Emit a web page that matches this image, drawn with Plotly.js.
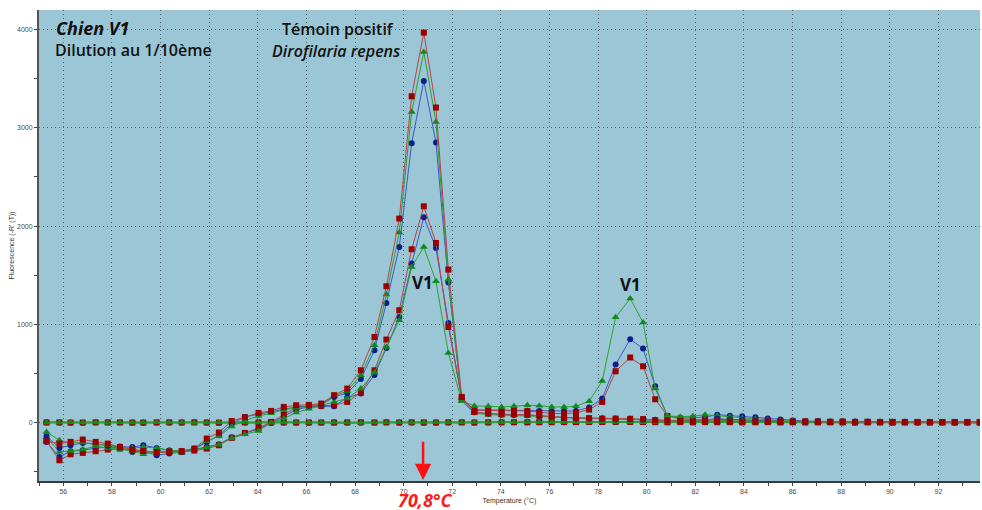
<!DOCTYPE html>
<html>
<head>
<meta charset="utf-8">
<script src="https://cdn.plot.ly/plotly-3.0.1.min.js"></script>
<style>
  html, body { margin: 0; padding: 0; background: #ffffff; }
  #chart { width: 982px; height: 510px; }
</style>
</head>
<body>
<div id="chart"></div>
<script>
// Melt-curve derivative readings, -R'(T), per temperature step (°C)
const temps = [55.31, 55.84, 56.30, 56.80, 57.33, 57.83, 58.33, 58.84, 59.29, 59.84,
  60.36, 60.87, 61.39, 61.90, 62.40, 62.93, 63.47, 64.03, 64.55, 65.07,
  65.58, 66.10, 66.61, 67.14, 67.68, 68.24, 68.80, 69.29, 69.82, 70.33,
  70.83, 71.33, 71.84, 72.39, 72.91, 73.48, 74.03, 74.54, 75.09, 75.58,
  76.09, 76.60, 77.09, 77.63, 78.17, 78.72, 79.32, 79.85, 80.35, 80.85,
  81.38, 81.90, 82.40, 82.90, 83.42, 83.93, 84.47, 84.98, 85.50, 86.01,
  86.52, 87.04, 87.55, 88.06, 88.57, 89.09, 89.60, 90.11, 90.62, 91.14,
  91.65, 92.16, 92.67, 93.19, 93.70];

// Positive control (Dirofilaria repens), three replicates
const posRed = [-190, -214, -197, -173, -197, -214, -250, -275, -290, -300,
  -295, -290, -265, -163, -102, 16, 55, 98, 118, 159,
  176, 180, 193, 279, 346, 532, 871, 1387, 2076, 3321,
  3969, 3206, 1557, 261, 108, 92, 85, 85, 80, 70,
  62, 50, 45, 45, 40, 40, 38, 35, 25, 20,
  15, 12, 18, 15, 10, 8, 12, 10, 5, 8,
  10, 6, 5, 8, 4, 6, 5, 3, 6, 4,
  5, 3, 4, 5, 3];
const posBlue = [-140, -258, -231, -207, -215, -235, -245, -250, -231, -260,
  -285, -295, -270, -200, -130, -11, 57, 85, 110, 140,
  160, 170, 180, 261, 301, 444, 736, 1217, 1787, 2843,
  3477, 2850, 1425, 240, 105, 90, 80, 78, 75, 66,
  58, 48, 44, 42, 40, 38, 36, 32, 25, 20,
  22, 18, 25, 40, 30, 28, 20, 15, 12, 10,
  8, 10, 6, 8, 5, 7, 4, 6, 5, 3,
  6, 4, 3, 5, 4];
const posGreen = [-96, -180, -207, -204, -225, -230, -255, -260, -250, -258,
  -282, -290, -262, -190, -140, -40, 20, 67, 95, 130,
  150, 165, 185, 270, 322, 481, 787, 1303, 1934, 3161,
  3772, 3060, 1455, 220, 95, 80, 75, 74, 70, 64,
  57, 50, 47, 45, 45, 42, 40, 35, 28, 22,
  20, 25, 30, 22, 18, 15, 12, 10, 8, 6,
  9, 5, 7, 4, 6, 5, 3, 5, 4, 3,
  5, 3, 4, 2, 3];

// Sample V1 (dog, 1/10 dilution), three replicates
const v1Red = [-187, -384, -323, -309, -292, -275, -265, -280, -292, -309,
  -299, -300, -285, -265, -231, -156, -106, -55, 6, 81,
  152, 166, 170, 176, 210, 305, 532, 845, 1143, 1764,
  2201, 1828, 973, 250, 125, 125, 118, 118, 118, 105,
  92, 92, 98, 132, 210, 522, 662, 573, 237, 67,
  40, 30, 30, 35, 30, 25, 20, 18, 15, 12,
  10, 12, 8, 10, 6, 8, 5, 7, 4, 6,
  5, 4, 5, 3, 4];
const v1Blue = [-197, -350, -292, -282, -260, -250, -255, -300, -290, -333,
  -316, -300, -275, -250, -220, -150, -110, -65, -5, 60,
  130, 160, 166, 166, 254, 295, 485, 759, 1075, 1618,
  2090, 1777, 1014, 240, 130, 128, 120, 120, 120, 118,
  115, 118, 118, 153, 244, 590, 848, 753, 369, 67,
  45, 50, 55, 80, 70, 65, 55, 40, 30, 22,
  15, 12, 10, 8, 10, 6, 8, 5, 7, 4,
  6, 5, 4, 5, 3];
const v1Green = [-150, -299, -289, -275, -241, -260, -270, -290, -323, -290,
  -300, -305, -275, -255, -225, -160, -120, -85, -1, 40,
  102, 140, 170, 210, 244, 346, 510, 770, 1041, 1584,
  1787, 1438, 708, 220, 169, 166, 159, 166, 176, 172,
  159, 159, 166, 217, 423, 1072, 1262, 1018, 346, 67,
  60, 65, 80, 70, 60, 45, 35, 25, 18, 14,
  10, 12, 8, 6, 9, 5, 7, 4, 6, 5,
  3, 5, 4, 3, 4];

// Negative wells, flat around zero
const negBlue = [2, 0, 1, -1, 0, 2, 1, 0, -2, 1,
  0, 1, 2, 0, -1, 1, 0, 2, 1, 0,
  1, -1, 0, 2, 1, 0, 1, 2, 0, 1,
  -1, 0, 1, 2, 0, 1, 3, 2, 4, 3,
  5, 4, 6, 5, 8, 6, 7, 5, 6, 4,
  5, 3, 4, 6, 5, 4, 3, 5, 4, 2,
  3, 4, 2, 3, 1, 2, 3, 1, 2, 0,
  1, 2, 1, 0, 1];
const negRed = [0, 1, -1, 0, 2, 0, 1, -1, 0, 1,
  2, 0, 1, 0, -1, 0, 1, 0, 2, 1,
  0, 1, 0, -1, 1, 2, 0, 1, 0, 2,
  1, 0, 2, 1, 0, 2, 1, 3, 2, 4,
  3, 5, 4, 6, 5, 7, 6, 5, 4, 3,
  4, 2, 5, 3, 4, 2, 3, 4, 2, 3,
  1, 2, 3, 1, 0, 2, 1, 0, 1, 2,
  0, 1, 0, 1, 0];
const negGreen = [1, 0, 2, 0, 1, -1, 0, 1, 0, 2,
  1, 0, -1, 1, 0, 2, 1, 0, 1, 0,
  2, 0, 1, 1, 0, -1, 1, 0, 2, 0,
  1, 2, 0, 1, 2, 1, 2, 3, 2, 3,
  4, 3, 5, 4, 6, 5, 6, 4, 5, 3,
  2, 4, 3, 5, 3, 4, 2, 3, 3, 2,
  2, 3, 1, 2, 2, 1, 2, 1, 0, 1,
  2, 1, 0, 1, 1];

const xTickLabels = ['56', '58', '60', '62', '64', '66', '68', '70', '72', '74',
  '76', '78', '80', '82', '84', '86', '88', '90', '92'];
const yTickLabels = ['0', '1000', '2000', '3000', '4000'];
const peakTemp = 70.8;

// Replicate styles: marker colour, line colour, symbol
const styles = {
  blue:  { mk: '#0c1e8e', ln: '#3d58c6', sym: 'circle', size: 6 },
  red:   { mk: '#9a0000', ln: '#b54545', sym: 'square', size: 6 },
  green: { mk: '#108a1c', ln: '#2fa02f', sym: 'triangle-up', size: 7 }
};

function curve(y, style, lw) {
  const s = styles[style];
  return {
    x: temps, y: y, type: 'scatter', mode: 'lines+markers',
    line: { color: s.ln, width: lw || 1 },
    marker: { color: s.mk, symbol: s.sym, size: s.size, line: { width: 0 } },
    hoverinfo: 'x+y', showlegend: false
  };
}

const traces = [
  curve(negBlue, 'blue', 1.5), curve(negRed, 'red', 1.5), curve(negGreen, 'green', 1.5),
  curve(v1Blue, 'blue'), curve(v1Red, 'red'), curve(v1Green, 'green'),
  curve(posBlue, 'blue'), curve(posGreen, 'green'), curve(posRed, 'red')
];

const textFont = 'Open Sans, Noto Sans, sans-serif';
const axisFont = 'Liberation Sans, Arial, sans-serif';
const tickFont = { family: axisFont, size: 7, color: '#4a4a4a' };
const gridDots = '1px,3px';

const layout = {
  width: 982, height: 510,
  margin: { l: 39, r: 2, t: 10, b: 29, pad: 0 },
  paper_bgcolor: '#ffffff',
  plot_bgcolor: '#9ac6d5',
  showlegend: false,
  xaxis: {
    range: [55.0, 93.71],
    tickmode: 'array',
    tickvals: xTickLabels.map(Number),
    ticktext: xTickLabels,
    ticks: 'outside', ticklen: 3, tickwidth: 1, tickcolor: '#444',
    showline: true, linecolor: '#3a3a3a', linewidth: 1.5,
    showgrid: true, gridcolor: '#4c6570', griddash: gridDots, gridwidth: 1,
    zeroline: false,
    minor: { dtick: 1, tick0: 55, ticks: 'outside', ticklen: 3, tickcolor: '#444', showgrid: false },
    tickfont: tickFont,
    title: { text: 'Temperature (°C)', font: { family: axisFont, size: 7, color: '#333' }, standoff: 4 }
  },
  yaxis: {
    range: [-595, 4199],
    tickmode: 'array',
    tickvals: yTickLabels.map(Number),
    ticktext: yTickLabels,
    ticks: 'outside', ticklen: 3, tickwidth: 1, tickcolor: '#444',
    showline: true, linecolor: '#555', linewidth: 2,
    showgrid: true, gridcolor: '#4c6570', griddash: gridDots, gridwidth: 1,
    zeroline: false,
    minor: { dtick: 500, tick0: 0, ticks: 'outside', ticklen: 3, tickcolor: '#444', showgrid: false },
    tickfont: tickFont,
    title: { text: "Fluorescence (-R' (T))", font: { family: axisFont, size: 7, color: '#333' }, standoff: 2 }
  },
  annotations: [
    { text: '<b><i>Chien V1</i></b>', xref: 'x', yref: 'y', x: 55.62, y: 4013,
      xanchor: 'left', yanchor: 'middle', showarrow: false,
      font: { family: textFont, size: 18, color: '#111' } },
    { text: 'Dilution au 1/10ème', xref: 'x', yref: 'y', x: 55.58, y: 3789,
      xanchor: 'left', yanchor: 'middle', showarrow: false,
      font: { family: textFont, size: 16, color: '#111', weight: 600 } },
    { text: 'Témoin positif', xref: 'x', yref: 'y', x: 67.28, y: 4003,
      xanchor: 'center', yanchor: 'middle', showarrow: false,
      font: { family: textFont, size: 16, color: '#111', weight: 600 } },
    { text: '<i>Dirofilaria repens</i>', xref: 'x', yref: 'y', x: 67.22, y: 3779,
      xanchor: 'center', yanchor: 'middle', showarrow: false,
      font: { family: textFont, size: 16, color: '#111', weight: 600 } },
    { text: '<b>V1</b>', xref: 'x', yref: 'y', x: 70.79, y: 1428,
      xanchor: 'center', yanchor: 'middle', showarrow: false,
      font: { family: textFont, size: 17, color: '#111' } },
    { text: '<b>V1</b>', xref: 'x', yref: 'y', x: 79.35, y: 1408,
      xanchor: 'center', yanchor: 'middle', showarrow: false,
      font: { family: textFont, size: 17, color: '#111' } },
    // red arrow marking the melting peak
    { text: '', xref: 'x', yref: 'y', x: peakTemp, y: -585,
      axref: 'x', ayref: 'y', ax: peakTemp, ay: -180,
      showarrow: true, arrowhead: 2, arrowsize: 1.3, arrowwidth: 2.5,
      arrowcolor: '#ff1010', standoff: 0, startstandoff: 0 },
    { text: '<b><i>' + peakTemp.toFixed(1).replace('.', ',') + '°C</i></b>',
      xref: 'x', yref: 'paper', x: peakTemp + 0.1, y: -0.0616, yshift: -2,
      xanchor: 'center', yanchor: 'bottom', showarrow: false,
      borderpad: 0, borderwidth: 0,
      font: { family: 'Liberation Sans Narrow, Open Sans, sans-serif', size: 18, color: '#ff1a1a' } }
  ]
};

Plotly.newPlot('chart', traces, layout, { staticPlot: true, displayModeBar: false });
</script>
</body>
</html>
